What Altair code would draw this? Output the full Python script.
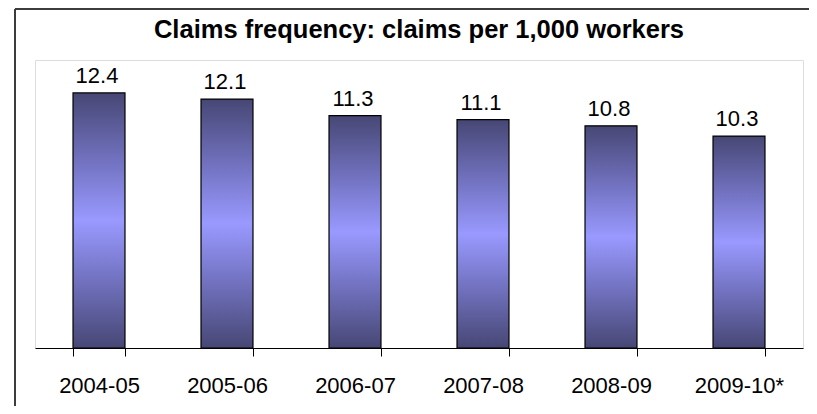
import altair as alt
import pandas as pd

categories = ["2004-05", "2005-06", "2006-07", "2007-08", "2008-09", "2009-10*"]
values = [12.4, 12.1, 11.3, 11.1, 10.8, 10.3]
labels = ["12.4", "12.1", "11.3", "11.1", "10.8", "10.3"]

df = pd.DataFrame({"period": categories, "value": values, "label": labels})

FONT = "Liberation Sans"

grad = alt.LinearGradient(
    gradient="linear",
    x1=0, y1=0, x2=0, y2=1,
    stops=[
        alt.GradientStop(color="#474775", offset=0),
        alt.GradientStop(color="#7474c4", offset=0.28),
        alt.GradientStop(color="#9999ff", offset=0.5),
        alt.GradientStop(color="#7474c4", offset=0.72),
        alt.GradientStop(color="#474775", offset=1),
    ],
)

x_enc = alt.X(
    "period:N",
    sort=categories,
    title=None,
    scale=alt.Scale(paddingInner=0.594, paddingOuter=0.297),
    axis=alt.Axis(
        labelAngle=0,
        labelFont=FONT,
        labelFontSize=22,
        labelColor="black",
        labelPadding=19,
        tickBand="extent",
        tickSize=8,
        tickColor="black",
        tickWidth=1,
        domainColor="black",
        domainWidth=1,
    ),
)
y_enc = alt.Y(
    "value:Q",
    scale=alt.Scale(domain=[0, 14], nice=False),
    axis=None,
)

bars = alt.Chart(df).mark_bar(
    color=grad, stroke="black", strokeWidth=1.2
).encode(x=x_enc, y=y_enc)

text = alt.Chart(df).mark_text(
    font=FONT, fontSize=22, color="black", baseline="alphabetic", dy=-10, dx=-2
).encode(x=alt.X("period:N", sort=categories), y=y_enc, text="label:N")

border_left = alt.Chart(df).mark_rule(color="#3c3c3c", strokeWidth=2).encode(
    x=alt.value(-20), y=alt.value(-51), y2=alt.value(400)
)
border_top = alt.Chart(df).mark_rule(color="#3c3c3c", strokeWidth=2).encode(
    x=alt.value(-20), x2=alt.value(800), y=alt.value(-51)
)

chart = (
    alt.layer(border_left, border_top, bars, text)
    .properties(
        width=768,
        height=288,
        title=alt.TitleParams(
            "Claims frequency: claims per 1,000 workers",
            font=FONT,
            fontSize=25.5,
            fontWeight="bold",
            color="black",
            anchor="middle",
            offset=-35,
        ),
        autosize=alt.AutoSizeParams(type="none"),
        padding={"left": 27, "top": 52, "right": 6, "bottom": 58},
    )
    .configure_view(stroke="#8a8a8a", strokeWidth=2)
    .configure(background="white")
)

chart.save("out.html", embed_options={"renderer": "svg", "actions": False})
